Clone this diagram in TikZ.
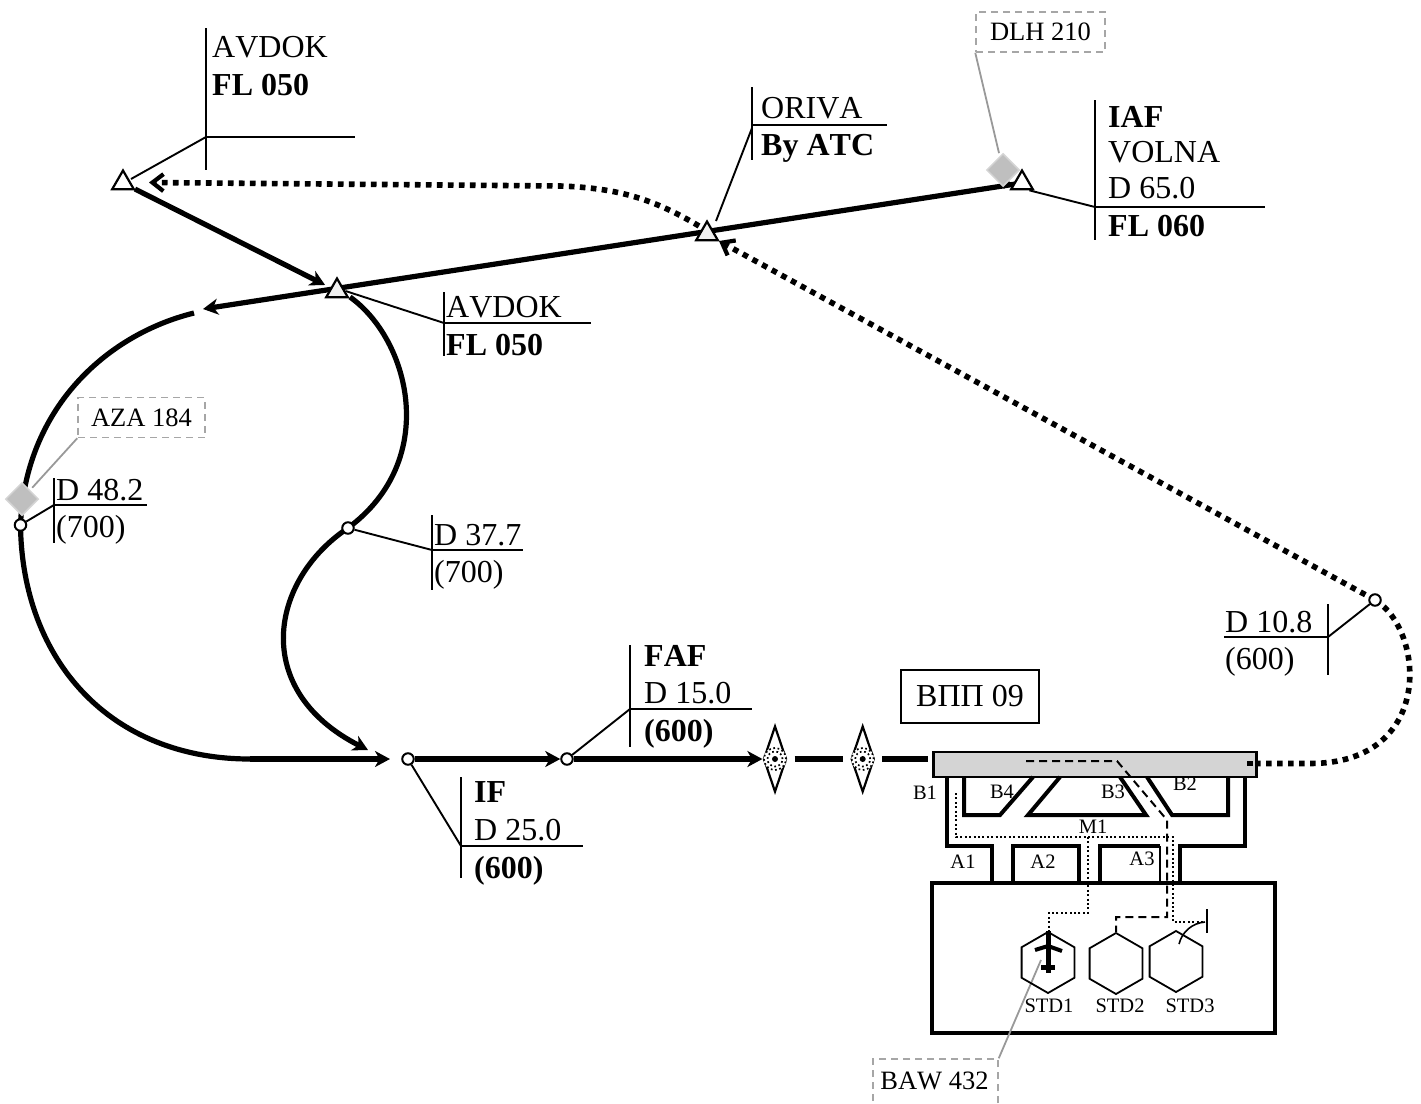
\documentclass[tikz,border=0pt]{standalone}
\usepackage{fontspec}
\setmainfont[Kerning=Off]{Liberation Serif}
\usetikzlibrary{arrows.meta,shapes.geometric,backgrounds}
\newcommand{\bigtxt}{\fontsize{32}{36}\selectfont}
\newcommand{\smalltxt}{\fontsize{26.5}{30}\selectfont}
\newcommand{\tinytxt}{\fontsize{20.5}{24}\selectfont}
\tikzset{
  x=1pt,y=-1pt,
  fix/.style={regular polygon,regular polygon sides=3,draw=black,fill=white,line width=2.2pt,minimum size=25pt,inner sep=0pt},
  wpt/.style={circle,draw=black,fill=white,line width=2pt,minimum size=11.5pt,inner sep=0pt},
  lbl/.style={anchor=base west,inner sep=0pt,font=\bigtxt},
  lead/.style={draw=black,line width=1.9pt},
  track/.style={draw=black,line width=5.2pt},
  head/.style={-{Stealth[length=15pt,width=16pt,inset=4.5pt]}},
  dotted track/.style={draw=black,line width=5.6pt,dash pattern=on 5.6pt off 5.4pt},
  barb/.style={-{Straight Barb[length=11pt,width=17pt,line width=4.2pt]}},
  marker/.style={diamond,fill=black!25,draw=black!17,line width=1.5pt,minimum size=33pt,inner sep=0pt},
  callout/.style={draw=black!35,line width=1.5pt,dash pattern=on 7pt off 5pt,fill=white,inner sep=0pt,font=\smalltxt,minimum height=40pt},
  callline/.style={draw=black!40,line width=1.8pt},
  nav/.style={diamond,draw=black,fill=white,line width=2.2pt,shape aspect=0.34,minimum width=23pt,minimum height=66pt,inner sep=0pt},
  taxi/.style={draw=black,line width=4pt},
  stand/.style={regular polygon,regular polygon sides=6,shape border rotate=30,draw=black,line width=1.8pt,minimum size=61pt,inner sep=0pt},
  tiny/.style={inner sep=0pt,font=\tinytxt},
  routeA/.style={draw=black,line width=2pt,dash pattern=on 8pt off 5pt},
  routeB/.style={draw=black,line width=1.6pt,dash pattern=on 2pt off 2.4pt},
}
\begin{document}
\begin{tikzpicture}
\useasboundingbox (0,0) rectangle (1421,1103);
\clip (0,0) rectangle (1421,1103);
% runway, terminal
\node[draw=black,fill=black!17,line width=2.5pt,minimum width=323pt,minimum height=25pt,inner sep=0pt] (rwy) at (1095,764.5) {};
\node[draw=black,line width=4pt,minimum width=343pt,minimum height=150pt,inner sep=0pt] (term) at (1103.5,958) {};
\node[draw=black,line width=2pt,minimum width=138pt,minimum height=53pt,inner sep=0pt,font=\bigtxt] (rwylabel) at (970,696.5) {ВПП 09};
% fixes
\node[fix] (T1) at (123,183) {};
\node[fix,fill=black!6] (T2) at (337,291) {};
\node[fix,fill=black!6] (T3) at (707,234) {};
\node[fix] (T4) at (1022,183) {};
\node[wpt] (W1) at (20.5,525) {};
\node[wpt] (W2) at (348,528) {};
\node[wpt] (W3) at (408,759) {};
\node[wpt] (W4) at (567,759) {};
\node[wpt] (W5) at (1375,600) {};
% free ends of the tracks
\coordinate (trackend) at (203,309);
\coordinate (arcstart) at (194,313);
\coordinate (arcflat) at (250,759);
\coordinate (meetIF) at (390,759);
\coordinate (meetT2) at (368,750);
\coordinate (stub) at (1000,184);
\coordinate (rwyend) at (1247,763.5);
\coordinate (rwyflat) at (1310,763.5);
\coordinate (t2arc) at (350,297);
\coordinate (dotbend) at (560,186);
\coordinate (dottip) at (149,182.5);
\coordinate (dotstart) at (699,226);
\coordinate (bigtip) at (719,241);
\coordinate (rwyedge) at (928,759);
% navaids
\foreach \n/\x in {N1/775,N2/862.7}{
  \node[nav] (\n) at (\x,759) {};
  \fill[white] (\x,759) circle (11.5pt);
  \draw[line width=1.7pt,dash pattern=on 1.7pt off 2.6pt] (\x,759) circle (11pt);
  \draw[line width=1.7pt,dash pattern=on 1.7pt off 2.6pt] (\x,759) circle (7.5pt);
  \fill (\x,759) circle (3pt);
}
\begin{scope}[on background layer]
  % solid tracks
  \draw[track,head,shorten >=6pt] (T1) -- (T2);
  \draw[track,head] (T4.center) -- (trackend);
  \draw[track,line width=4pt,-{Stealth[length=10pt,width=10pt,inset=3pt]}] (stub) -- (T4);
  \draw[track] (arcstart) .. controls (105,335) and (25,410) .. (W1.center) .. controls (22,660) and (110,759) .. (arcflat);
  \draw[track,head] (arcflat) -- (meetIF);
  \draw[track] (t2arc) .. controls (410,340) and (440,460) .. (W2.center);
  \draw[track,head] (W2.center) .. controls (270,580) and (250,690) .. (meetT2);
  \draw[track,head] (W3) -- (W4);
  \draw[track,head] (W4) -- (N1);
  \draw[track,shorten <=7pt,shorten >=7pt] (N1) -- (N2);
  \draw[track,shorten <=7pt] (N2) -- (rwyedge);
  % dotted tracks
  \draw[dotted track,barb] (dotstart) .. controls (655,200) and (620,188) .. (dotbend) -- (dottip);
  \draw[dotted track,barb] (W5.center) -- (bigtip);
  \draw[dotted track] (W5.center) .. controls (1425,630) and (1435,763.5) .. (rwyflat) -- (rwyend);
\end{scope}
\draw[dotted track] (rwyend) -- ++(5.6,0);
% markers and callouts
\node[callout,minimum width=129pt] (dlh) at (1040.5,32) {DLH 210};
\node[callout,minimum width=127pt] (aza) at (141.5,417.5) {AZA 184};
\node[callout,minimum width=125pt,minimum height=51pt] (baw) at (935.5,1084.5) {};
\node[inner sep=0pt,font=\smalltxt] (bawtext) at (934.5,1081) {BAW 432};
\node[marker] (Mdlh) at (1003,170) {};
\node[marker] (Maza) at (22,499) {};
\coordinate (Mbaw) at (1041,960);
\draw[callline,shorten >=3pt] (dlh.south west) -- (Mdlh);
\draw[callline,shorten >=3pt] (aza.south west) -- (Maza);
\draw[callline] (baw.north east) -- (Mbaw);
% AVDOK upper
\coordinate (a1) at (206,137);
\coordinate (l1) at (131,179);
\draw[lead] (l1) -- (a1);
\draw[lead] (206,28) -- (206,170);
\draw[lead] (a1) -- (355,137);
\node[lbl] (t1a) at (212,57) {AVDOK};
\node[lbl] (t1b) at (212,95) {\textbf{FL 050}};
% AVDOK lower
\coordinate (a2) at (444,323);
\draw[lead] (T2.east) -- (a2);
\draw[lead] (444,292) -- (444,356);
\draw[lead] (a2) -- (591,323);
\node[lbl] (t2a) at (446,317) {AVDOK};
\node[lbl] (t2b) at (446,355) {\textbf{FL 050}};
% ORIVA
\coordinate (a3) at (752,128);
\coordinate (l3) at (716,221);
\draw[lead] (l3) -- (a3);
\draw[lead] (752,87) -- (752,160);
\draw[lead] (752,125) -- (887,125);
\node[lbl] (t3a) at (761,118) {ORIVA};
\node[lbl] (t3b) at (761,155) {\textbf{By ATC}};
% IAF
\coordinate (a4) at (1095,207);
\draw[lead] (T4.south east) -- (a4);
\draw[lead] (1095,100) -- (1095,240);
\draw[lead] (a4) -- (1265,207);
\node[lbl] (t4a) at (1108,127) {\textbf{IAF}};
\node[lbl] (t4b) at (1108,162) {VOLNA};
\node[lbl] (t4c) at (1108,198) {D 65.0};
\node[lbl] (t4d) at (1108,236) {\textbf{FL 060}};
% D 48.2
\coordinate (a5) at (54,505);
\draw[lead] (W1) -- (a5);
\draw[lead] (54,478) -- (54,543);
\draw[lead] (a5) -- (147,505);
\node[lbl] (t5a) at (56,500) {D 48.2};
\node[lbl] (t5b) at (56,537) {(700)};
% D 37.7
\coordinate (a6) at (432,550);
\draw[lead] (W2) -- (a6);
\draw[lead] (432,515) -- (432,590);
\draw[lead] (a6) -- (523,550);
\node[lbl] (t6a) at (434,545) {D 37.7};
\node[lbl] (t6b) at (434,582) {(700)};
% IF
\coordinate (a7) at (461,846);
\draw[lead] (W3) -- (a7);
\draw[lead] (461,777) -- (461,878);
\draw[lead] (a7) -- (583,846);
\node[lbl] (t7a) at (474,802) {\textbf{IF}};
\node[lbl] (t7b) at (474,840) {D 25.0};
\node[lbl] (t7c) at (474,878) {\textbf{(600)}};
% FAF
\coordinate (a8) at (630,709);
\draw[lead] (W4) -- (a8);
\draw[lead] (630,645) -- (630,747);
\draw[lead] (a8) -- (752,709);
\node[lbl] (t8a) at (644,666) {\textbf{FAF}};
\node[lbl] (t8b) at (644,703) {D 15.0};
\node[lbl] (t8c) at (644,741) {\textbf{(600)}};
% D 10.8
\coordinate (a9) at (1328,637);
\draw[lead] (W5) -- (a9);
\draw[lead] (1328,604) -- (1328,675);
\draw[lead] (1224,637) -- (a9);
\node[lbl] (t9a) at (1225,632) {D 10.8};
\node[lbl] (t9b) at (1225,669) {(600)};
% taxiways
\draw[taxi] (947,777) -- (947,846) -- (992,846) -- (992,883);
\draw[taxi] (1245,777) -- (1245,846) -- (1180,846) -- (1180,883);
\draw[taxi] (1013,883) -- (1013,846) -- (1079,846) -- (1079,883);
\draw[taxi] (1100,883) -- (1100,846) -- (1160,846);
\draw[draw=black,line width=2pt] (1160,846) -- (1160,883);
\draw[taxi] (964,777) -- (964,815) -- (1000,815) -- (1033,777);
\draw[taxi] (1060,777) -- (1028,815) -- (1146,815) -- (1120,777);
\draw[taxi] (1147,777) -- (1172,815) -- (1228,815) -- (1228,777);
% stands
\node[stand] (s1) at (1048,962.5) {};
\node[stand] (s2) at (1116,963.5) {};
\node[stand] (s3) at (1176,961.5) {};
% aircraft
\draw[line width=5pt] (1048,931) -- (1048,973);
\draw[line width=4pt] (1035,950) -- (1048,946) -- (1062,951);
\draw[line width=5pt] (1041,967) -- (1055,967);
% routes
\coordinate (r0) at (1026,761);
\draw[routeA] (r0) -- (1117,761) -- (1167,820) -- (1167,917) -- (1116,917) -- (s2.corner 1);
\coordinate (r1) at (956,793);
\coordinate (r2) at (1205,922);
\draw[routeB] (r1) -- (956,837) -- (1173,837) -- (1173,922) -- (r2);
\draw[routeB] (1088,837) -- (1088,913) -- (1049,913) -- (1049,932);
\draw[line width=2pt] (1207,909) -- (1207,933);
\draw[line width=1.6pt] (r2) .. controls (1192,923) and (1182,932) .. (1179,944);
% small labels
\node[tiny] (lB1) at (925,793) {B1};
\node[tiny] (lB4) at (1002,792) {B4};
\node[tiny] (lB3) at (1113,792) {B3};
\node[tiny] (lB2) at (1185,784) {B2};
\node[tiny] (lM1) at (1093,827) {M1};
\node[tiny] (lA1) at (963,862) {A1};
\node[tiny] (lA2) at (1043,862) {A2};
\node[tiny] (lA3) at (1142,859) {A3};
\node[tiny] (lS1) at (1049,1006) {STD1};
\node[tiny] (lS2) at (1120,1006) {STD2};
\node[tiny] (lS3) at (1190,1006) {STD3};
\end{tikzpicture}
\end{document}
